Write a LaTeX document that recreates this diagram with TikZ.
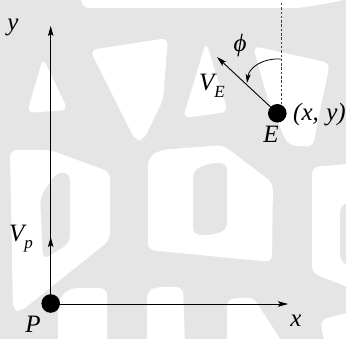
\documentclass[tikz,border=0pt]{standalone}
\usepackage{fontspec}
\setmainfont{Liberation Serif}
\usetikzlibrary{arrows.meta}
\newcommand{\subit}[1]{\raisebox{-0.28em}{\fontsize{17}{17}\selectfont\itshape #1}}
\begin{document}
\begin{tikzpicture}[x=1pt,y=-1pt,
  axis/.style={line width=0.9pt,-{Stealth[length=10pt,width=5.5pt,inset=2pt]}},
  dot/.style={circle,fill=black,inner sep=0pt,minimum size=18.6pt},
  lbl/.style={inner sep=0pt,font=\fontsize{25}{25}\selectfont\itshape},
  blob/.style={fill=white,draw=none,rounded corners=7pt}]
\useasboundingbox (0,0) rectangle (346,339);
\begin{scope}
\clip (0,0) rectangle (346,339);
\fill[gray!20] (0,0) rectangle (346,339);
% background pattern
\fill[blob] (80,-10) -- (350,-10) -- (346,0) -- (300,8) -- (82,8) -- cycle;
\fill[blob] (43,58) -- (68,110) -- (27,113) -- cycle;
\fill[blob] (90,50) -- (168,38) -- (163,100) -- (143,141) -- (135,140) -- cycle;
\fill[blob] (206,42) -- (228,112) -- (183,118) -- cycle;
\fill[blob] (253,46) -- (330,63) -- (318,120) -- (313,147) -- (288,145) -- (268,100) -- cycle;
\fill[blob,even odd rule] (10,150) -- (50,150) -- (110,172) -- (110,240) -- (20,312) -- (13,310) -- cycle
  (57,172) -- (70,173) -- (70,243) -- (43,260) -- (40,197) -- cycle;
\fill[blob] (58,300) -- (70,288) -- (107,288) -- (107,345) -- (58,345) -- cycle;
\fill[blob,even odd rule] (148,158) -- (160,150) -- (223,145) -- (273,183) -- (272,262) -- (148,250) -- cycle
  (193,170) -- (210,163) -- (227,163) -- (227,230) -- (213,235) -- (193,235) -- cycle;
\fill[blob,even odd rule] (312,167) -- (360,163) -- (360,292) -- (312,273) -- cycle
  (340,205) -- (360,200) -- (360,270) -- (340,262) -- cycle;
\fill[blob] (147,292) -- (155,287) -- (183,287) -- (185,345) -- (147,345) -- cycle;
\fill[blob] (227,299) -- (253,297) -- (284,345) -- (227,345) -- cycle;
\fill[blob] (320,320) -- (350,312) -- (350,345) -- (325,345) -- cycle;
\end{scope}
% points
\node[dot] (P) at (50.7,303.5) {};
\node[dot] (E) at (277.3,113.3) {};
\coordinate (ytip) at (50.7,26);
\coordinate (vp) at (50.7,237);
\coordinate (xtip) at (288,304);
\coordinate (dtop) at (281,3);
\coordinate (dbot) at (281,104);
\coordinate (vetip) at (217,57);
\coordinate (arcA) at (281,59);
\coordinate (arcB) at (247,83);
% axes
\draw[axis] (P.center) -- (ytip);
\draw[axis] (P.center) -- (vp);
\draw[axis] (P.center |- xtip) -- (xtip);
% E vectors
\draw[black!75,line width=0.8pt,dash pattern=on 2.5pt off 1.8pt] (dtop) -- (dbot);
\draw[axis] (E.center) -- (vetip);
\draw[line width=0.8pt,-{Stealth[length=9pt,width=5pt,inset=2pt]}] (arcA) .. controls (262,58) and (249,68) .. (arcB);
% labels
\node[lbl] (ly) at (13,27) {y};
\node[lbl] (lvp) at (21,239) {V\subit{p}};
\node[lbl] (lP) at (33,324.5) {P};
\node[lbl] (lx) at (296,321) {x};
\node[lbl] (lphi) at (240,45) {ϕ};
\node[lbl] (lve) at (212,86) {V\subit{E}};
\node[lbl] (lE) at (271,134) {E};
\node[lbl,anchor=west] (lxy) at (293,115) {(x,\hspace{0.3em}y)};
\end{tikzpicture}
\end{document}
